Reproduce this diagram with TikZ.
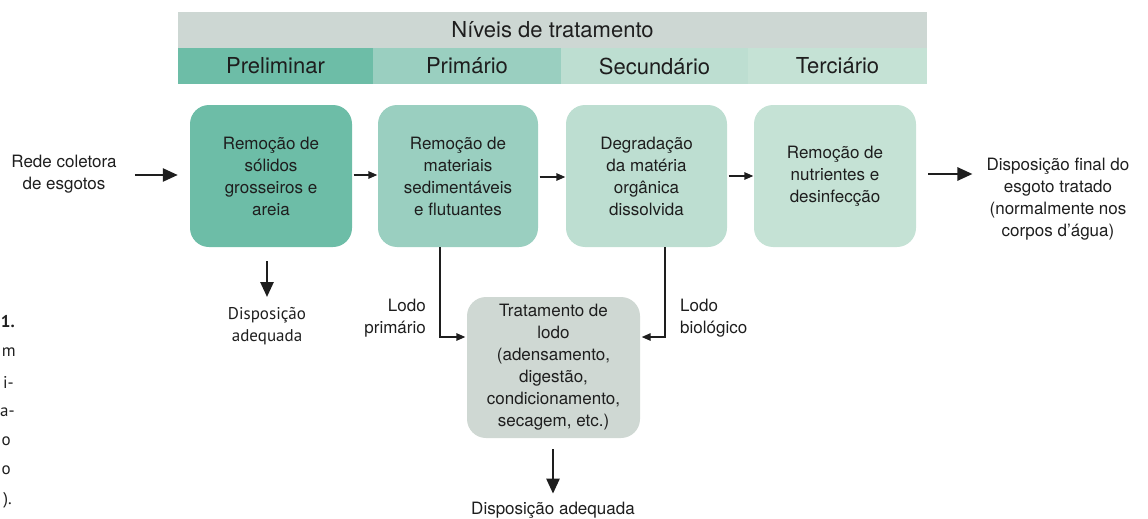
\documentclass[tikz,border=0pt]{standalone}
\usepackage{fontspec}
\setmainfont{TeX Gyre Heros}
\newfontfamily\myrfont{PT Sans}
\usetikzlibrary{arrows.meta,calc}
\definecolor{hdrgray}{HTML}{CDD7D3}
\definecolor{cprel}{HTML}{6DBDA7}
\definecolor{cprim}{HTML}{9ACFC0}
\definecolor{csec}{HTML}{BDDED1}
\definecolor{cter}{HTML}{C5E2D5}
\definecolor{csl}{HTML}{CFD8D3}
\definecolor{ink}{HTML}{1E1E1E}
\tikzset{
  box/.style={rounded corners=19pt, minimum width=162pt, minimum height=142pt, inner sep=0pt, align=center, font=\fontsize{17}{22}\selectfont, text=ink},
  hdr/.style={minimum height=36pt, inner sep=0pt, font=\fontsize{22}{24}\selectfont, text=ink},
  lbl/.style={inner sep=0pt, align=center, font=\fontsize{17}{22}\selectfont, text=ink},
  thickarrow/.style={draw=ink, line width=2.6pt, -{Triangle[length=15pt,width=13pt]}},
  thinarrow/.style={draw=ink, line width=1.4pt, -{Triangle[length=9pt,width=7.5pt]}},
  frag/.style={inner sep=0pt, anchor=east, font=\myrfont\fontsize{17}{20}\selectfont, text=ink}
}
\begin{document}
\begin{tikzpicture}[x=1pt,y=-1pt]
\useasboundingbox (0,0) rectangle (1148,519);
% header
\node[hdr, fill=hdrgray, minimum width=749pt] (title) at (552.5,30) {Níveis de tratamento};
\node[hdr, fill=cprel, minimum width=195pt] (hprel) at (275.5,66) {Preliminar};
\node[hdr, fill=cprim, minimum width=188pt] (hprim) at (467,66) {Primário};
\node[hdr, fill=csec, minimum width=187pt] (hsec) at (654.5,66) {Secundário};
\node[hdr, fill=cter, minimum width=179pt] (hter) at (837.5,66) {Terciário};
% main boxes
\node[box, fill=cprel] (b1) at (271,176) {Remoção de\\sólidos\\grosseiros e\\areia};
\node[box, fill=cprim, minimum width=160pt] (b2) at (458,176) {Remoção de\\materiais\\sedimentáveis\\e flutuantes};
\node[box, fill=csec, minimum width=161pt] (b3) at (646.5,176) {Degradação\\da matéria\\orgânica\\dissolvida};
\node[box, fill=cter] (b4) at (835,176) {Remoção de\\nutrientes e\\desinfecção};
\node[box, fill=csl, minimum width=173pt, minimum height=141pt] (sl) at (553.5,367.5) {Tratamento de\\lodo\\(adensamento,\\digestão,\\condicionamento,\\secagem, etc.)};
% side texts
\node[lbl] (rede) at (64,174) {Rede coletora\\de esgotos};
\node[lbl] (out) at (1058,199) {Disposição final do\\esgoto tratado\\(normalmente nos\\corpos d’água)};
\node[lbl, font=\myrfont\fontsize{17}{22}\selectfont] (d1) at (267,326) {Disposição\\adequada};
\node[lbl] (d2) at (553,510) {Disposição adequada};
\node[lbl, anchor=east, align=right] (lp) at (426,318) {Lodo\\primário};
\node[lbl, anchor=west, align=left] (lb) at (680,318) {Lodo\\biológico};
% connectors
\draw[thickarrow, shorten <=18pt, shorten >=12pt] (rede.east |- 0,175) -- (b1.west |- 0,175);
\draw[thinarrow, shorten <=1.5pt, shorten >=0.5pt] (b1.east |- 0,175) -- (b2.west |- 0,175);
\draw[thinarrow, shorten <=1.5pt, shorten >=0.5pt] (b2.east |- 0,177) -- (b3.west |- 0,177);
\draw[thinarrow, shorten <=1.5pt, shorten >=0.5pt] (b3.east |- 0,176) -- (b4.west |- 0,176);
\draw[thickarrow, shorten <=12pt, shorten >=14pt] (b4.east |- 0,174) -- (out.west |- 0,174);
\draw[thickarrow, shorten <=14pt, shorten >=10pt] (b1.south -| d1.north) -- (d1.north);
\draw[thickarrow, shorten <=11pt, shorten >=8pt] (sl.south -| d2.north) -- (d2.north);
\coordinate (pj) at (440,337);
\coordinate (bj) at (665,337);
\draw[thinarrow, shorten >=1.5pt] (b2.south -| pj) -- (pj) -- (pj -| sl.west);
\draw[thinarrow, shorten >=1.5pt] (b3.south -| bj) -- (bj) -- (bj -| sl.east);
% caption fragments at the left edge
\node[frag, font=\myrfont\bfseries\fontsize{17}{20}\selectfont] (f1) at (15,322) {1.};
\node[frag] (f2) at (16,352) {m};
\node[frag] (f3) at (14,382) {i-};
\node[frag] (f4) at (15,412) {a-};
\node[frag] (f5) at (11,441) {o};
\node[frag] (f6) at (11,470) {o};
\node[frag] (f7) at (12,500) {).};
\end{tikzpicture}
\end{document}
